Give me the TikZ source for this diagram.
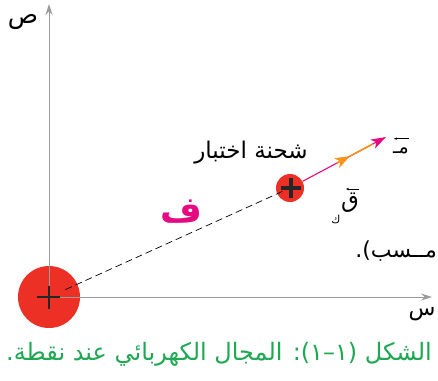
\documentclass[tikz,border=0pt]{standalone}
\usepackage{fontspec}
\usetikzlibrary{arrows.meta}
\TeXXeTstate=1
\newfontfamily\arabicfont[Script=Arabic]{DejaVu Sans}
\definecolor{ballred}{RGB}{236,48,38}
\definecolor{magentaline}{RGB}{230,10,130}
\definecolor{orangeline}{RGB}{247,148,29}
\definecolor{captiongreen}{RGB}{30,168,82}
\definecolor{axisgrey}{RGB}{155,155,155}
\tikzset{
  ball/.style={circle,fill=ballred,draw=none,inner sep=0pt},
  axisline/.style={draw=axisgrey,line width=1pt,-{Stealth[length=11pt,width=7pt]}},
  plusbar/.style={draw=black!85,line cap=butt},
  dashline/.style={draw=black,line width=0.7pt,dash pattern=on 7pt off 4pt},
  fieldline/.style={draw=magentaline,line width=1.1pt,-{Stealth[length=15pt,width=10pt,inset=4pt]}},
  forceline/.style={draw=orangeline,line width=1.6pt},
  vecarrow/.style={draw=black,line width=0.5pt,-{Stealth[length=3pt,width=2.5pt]}},
  lbl/.style={inner sep=0pt,font=\arabicfont}
}
\begin{document}
\begin{tikzpicture}[x=1pt,y=-1pt]
\useasboundingbox (0,0) rectangle (438,380);
% charges
\node[ball,minimum size=62pt] (Q) at (49,297) {};
\node[ball,minimum size=28pt] (T) at (290,188) {};
% axes
\coordinate (xend) at (432,297);
\coordinate (yend) at (49,4);
\draw[axisline] (Q.center) -- (xend);
\draw[axisline] (Q.center) -- (yend);
% dashed distance line
\draw[dashline,shorten <=18pt,shorten >=4pt] (Q.center) -- (T.center);
% plus signs
\draw[plusbar,line width=2.2pt] ([xshift=-12pt]Q.center) -- ([xshift=11pt]Q.center);
\draw[plusbar,line width=2.2pt] ([yshift=11pt]Q.center) -- ([yshift=-12pt]Q.center);
\draw[plusbar,line width=3.8pt] ([xshift=-9pt]T.center) -- ([xshift=11pt]T.center);
\draw[plusbar,line width=3.8pt] ([xshift=1pt,yshift=10pt]T.center) -- ([xshift=1pt,yshift=-10pt]T.center);
% field vector (magenta) and force vector (orange)
\coordinate (mend) at (386,137);
\coordinate (fstart) at (336.6,163.2);
\coordinate (ftip) at (350,156.1);
\coordinate (fend) at (373,143.9);
\draw[fieldline] (T) -- (mend);
\draw[forceline] (ftip) -- (fend);
\draw[forceline,-{Stealth[length=15pt,width=11pt,inset=4pt]}] (fstart) -- (ftip);
% axis labels
\node[lbl,font=\arabicfont\fontsize{25}{28}\selectfont] (ylab) at (23,22) {\beginR ص\endR};
\node[lbl,font=\arabicfont\fontsize{22}{26}\selectfont] (xlab) at (422,314) {\beginR س\endR};
% test charge label
\node[lbl,font=\arabicfont\fontsize{23}{27}\selectfont] (testlbl) at (251,153) {\beginR شحنة اختبار\endR};
% distance label
\node[lbl,font=\arabicfont\fontsize{36}{40}\selectfont\bfseries,text=magentaline] (flbl) at (181,212) {\beginR ف\endR};
% field label
\node[lbl,font=\arabicfont\fontsize{19}{22}\selectfont] (elbl) at (401,151) {\beginR مـ\endR};
\draw[vecarrow] ([xshift=8pt,yshift=9pt]elbl.north) -- ([xshift=-7pt,yshift=9pt]elbl.north);
% force label
\node[lbl,font=\arabicfont\fontsize{23}{26}\selectfont] (qlbl) at (350,203) {\beginR ق\endR};
\draw[vecarrow] ([xshift=9pt,yshift=4pt]qlbl.north) -- ([xshift=-4pt,yshift=4pt]qlbl.north);
\node[lbl,font=\arabicfont\fontsize{11}{13}\selectfont] (klbl) at (336,219) {\beginR ك\endR};
% truncated text
\node[lbl,anchor=east,font=\arabicfont\fontsize{22}{26}\selectfont] (trunc) at (437,251) {\beginR مــسب).\endR};
% caption
\node[lbl,font=\arabicfont\fontsize{24}{28}\selectfont,text=captiongreen] (cap) at (219,354) {\beginR الشكل (١–١): المجال الكهربائي عند نقطة.\endR};
\end{tikzpicture}
\end{document}
